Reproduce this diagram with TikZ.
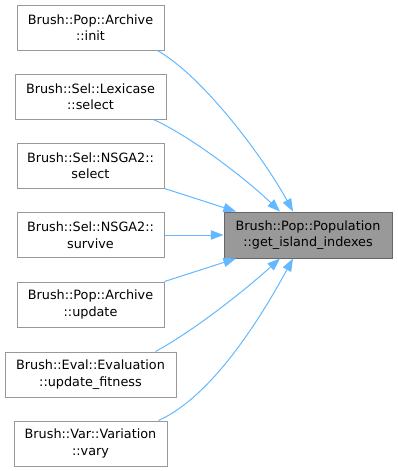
\documentclass[tikz,border=0pt]{standalone}
\usepackage{fontspec}
\setmainfont{DejaVu Sans}
\usetikzlibrary{arrows.meta,calc}
\definecolor{edgeblue}{HTML}{63B8FF}
\definecolor{boxline}{HTML}{999999}
\definecolor{mainfill}{HTML}{999999}
\definecolor{mainline}{HTML}{666666}
\tikzset{
  fn/.style={draw=boxline, line width=0.75pt, fill=white, align=center,
    inner sep=0pt, minimum height={45*0.75pt},
    font=\fontsize{9.6pt}{12.4pt}\selectfont},
  mainfn/.style={fn, draw=mainline, fill=mainfill, minimum height={46*0.75pt}},
  call/.style={draw=edgeblue, line width=0.75pt,
    -{Triangle[length=9.5pt,width=7pt]}, edgeblue}
}
\begin{document}
\begin{tikzpicture}[x=0.75pt,y=-0.75pt]
\useasboundingbox (0,0) rectangle (397,471);
% callers
\node[fn, minimum width={147*0.75pt}] (b1) at (90.5,27.5) {Brush::Pop::Archive\\::init};
\node[fn, minimum width={151*0.75pt}] (b2) at (90.5,96.5) {Brush::Sel::Lexicase\\::select};
\node[fn, minimum width={147*0.75pt}] (b3) at (90.5,165.5) {Brush::Sel::NSGA2::\\select};
\node[fn, minimum width={147*0.75pt}] (b4) at (90.5,235) {Brush::Sel::NSGA2::\\survive};
\node[fn, minimum width={147*0.75pt}] (b5) at (90.5,304.5) {Brush::Pop::Archive\\::update};
\node[fn, minimum width={171*0.75pt}] (b6) at (90.5,374.5) {Brush::Eval::Evaluation\\::update\_fitness};
\node[fn, minimum width={153*0.75pt}] (b7) at (90.5,443.5) {Brush::Var::Variation\\::vary};
% callee
\node[mainfn, minimum width={168*0.75pt}] (c) at (308,235) {Brush::Pop::Population\\::get\_island\_indexes};
% call edges
\draw[call] ($(b1.south east)+(-7,0)$) .. controls (205,78) and (265,160) .. ($(c.north)+(-15,0)$);
\draw[call] ($(b2.south east)+(-13,0)$) .. controls (190,136) and (245,178) .. ($(c.north)+(-28,0)$);
\draw[call] (b3.south east) -- ($(c.north)+(-72,0)$);
\draw[call] (b4.east) -- (c.west);
\draw[call] (b5.north east) -- ($(c.south)+(-72,0)$);
\draw[call] ($(b6.north east)+(-21,0)$) .. controls (195,330) and (245,290) .. ($(c.south)+(-28,0)$);
\draw[call] ($(b7.north east)+(-9,0)$) .. controls (215,395) and (265,310) .. ($(c.south)+(-15,0)$);
\end{tikzpicture}
\end{document}
